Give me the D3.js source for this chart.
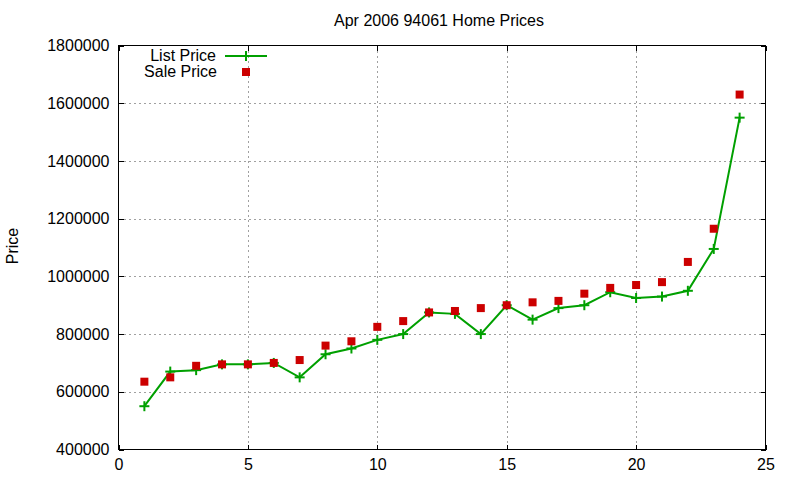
<!DOCTYPE html>
<html><head><meta charset="utf-8">
<script src="https://cdn.jsdelivr.net/npm/d3@7"></script>
<style>
html,body{margin:0;padding:0;background:#fff;}
text{font-family:"Liberation Sans",Arial,sans-serif;}
</style></head>
<body><svg id="c" width="800" height="480"></svg>
<script>
const xValues = [1,2,3,4,5,6,7,8,9,10,11,12,13,14,15,16,17,18,19,20,21,22,23,24];
const listPrice = [550000,670000,675000,695000,695000,700000,650000,730000,750000,780000,800000,875000,870000,800000,900000,850000,890000,900000,945000,925000,930000,950000,1095000,1550000];
const salePrice = [635000,650000,690000,695000,695000,700000,710000,760000,775000,825000,845000,875000,880000,890000,900000,910000,915000,940000,960000,970000,980000,1050000,1165000,1630000];
const xTicks = [0,5,10,15,20,25];
const yTicks = [400000,600000,800000,1000000,1200000,1400000,1600000,1800000];
const title = "Apr 2006 94061 Home Prices";
const yLabel = "Price";
const seriesNames = ["List Price","Sale Price"];

const svg = d3.select("#c");
const L = 118.5, R = 765.5, T = 45.5, B = 449.5;
const x = d3.scaleLinear().domain([0,25]).range([L,R]);
const y = d3.scaleLinear().domain([400000,1800000]).range([B,T]);
const green = "#00a000", red = "#cc0000";

// grid
const grid = svg.append("g").attr("stroke","#a0a0a0").attr("stroke-width",1).attr("stroke-dasharray","2,3").attr("shape-rendering","crispEdges");
xTicks.slice(1,-1).forEach(t=>grid.append("line").attr("x1",Math.round(x(t))+0.5).attr("x2",Math.round(x(t))+0.5).attr("y1",T).attr("y2",B));
yTicks.slice(1,-1).forEach(t=>grid.append("line").attr("y1",Math.round(y(t))+0.5).attr("y2",Math.round(y(t))+0.5).attr("x1",L).attr("x2",R));

// axes
const tick = 5;
const ax = svg.append("g").attr("shape-rendering","crispEdges");
const fmt = d3.format("d");
const yAxL = d3.axisLeft(y).tickValues(yTicks).tickFormat(fmt).tickSizeInner(-tick).tickSizeOuter(0).tickPadding(9);
const yAxR = d3.axisRight(y).tickValues(yTicks).tickFormat("").tickSizeInner(-tick).tickSizeOuter(0);
const xAxB = d3.axisBottom(x).tickValues(xTicks).tickFormat(fmt).tickSizeInner(-tick).tickSizeOuter(0).tickPadding(9);
const xAxT = d3.axisTop(x).tickValues(xTicks).tickFormat("").tickSizeInner(-tick).tickSizeOuter(0);
ax.append("g").attr("transform",`translate(${L},0)`).call(yAxL);
ax.append("g").attr("transform",`translate(${R},0)`).call(yAxR);
ax.append("g").attr("transform",`translate(0,${B})`).call(xAxB);
ax.append("g").attr("transform",`translate(0,${T})`).call(xAxT);
ax.selectAll(".domain").remove();
ax.selectAll("text").attr("font-size",16).attr("font-family","'Liberation Sans',Arial,sans-serif").attr("fill","#000");
ax.selectAll("line").attr("stroke","#000");
ax.append("rect").attr("x",L).attr("y",T).attr("width",R-L).attr("height",B-T).attr("fill","none").attr("stroke","#000");

// title & label
svg.append("text").attr("x",439).attr("y",26).attr("text-anchor","middle").attr("font-size",16).text(title);
svg.append("text").attr("transform","translate(18,246) rotate(-90)").attr("text-anchor","middle").attr("font-size",16).text(yLabel);

// list line
const pts = xValues.map((d,i)=>[d,listPrice[i]]);
svg.append("path").datum(pts).attr("fill","none").attr("stroke",green).attr("stroke-width",2)
  .attr("d",d3.line().x(d=>x(d[0])).y(d=>y(d[1])));
const plus = (g,cx,cy)=>{
  g.append("line").attr("x1",cx-5).attr("x2",cx+5).attr("y1",cy).attr("y2",cy).attr("stroke",green).attr("stroke-width",2);
  g.append("line").attr("x1",cx).attr("x2",cx).attr("y1",cy-5).attr("y2",cy+5).attr("stroke",green).attr("stroke-width",2);
};
const pg = svg.append("g");
pts.forEach(p=>plus(pg,x(p[0]),y(p[1])));

// sale squares
svg.append("g").selectAll("rect").data(xValues.map((d,i)=>[d,salePrice[i]])).join("rect")
  .attr("x",d=>x(d[0])-4).attr("y",d=>y(d[1])-4).attr("width",8).attr("height",8).attr("fill",red);

// legend
const lg = svg.append("g");
lg.append("text").attr("x",216).attr("y",61).attr("text-anchor","end").attr("font-size",16).text(seriesNames[0]);
lg.append("text").attr("x",217).attr("y",77).attr("text-anchor","end").attr("font-size",16).text(seriesNames[1]);
lg.append("line").attr("x1",225).attr("x2",267).attr("y1",56).attr("y2",56).attr("stroke",green).attr("stroke-width",2);
plus(lg,246,56);
lg.append("rect").attr("x",242).attr("y",68).attr("width",8).attr("height",8).attr("fill",red);
</script></body></html>
